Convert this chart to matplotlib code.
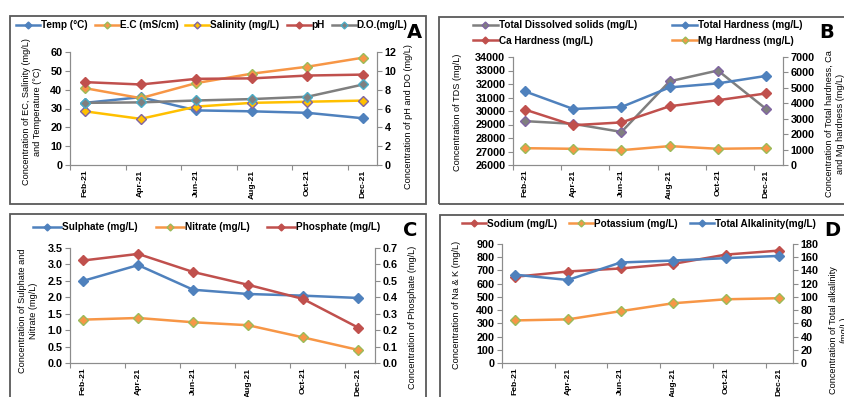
import matplotlib
matplotlib.use("Agg")
import matplotlib.pyplot as plt
from matplotlib.patches import Rectangle

plt.rcParams["font.family"] = ["Liberation Sans Narrow", "Liberation Sans", "DejaVu Sans"]

W, H = 845, 397

months = ["Feb-21", "Apr-21", "Jun-21", "Aug-21", "Oct-21", "Dec-21"]

# panel A
temp = [33.0, 36.0, 29.0, 28.5, 27.7, 24.8]
ec = [40.8, 35.5, 43.5, 48.5, 52.2, 57.0]
salinity = [28.5, 24.5, 31.0, 33.0, 33.6, 34.2]
ph = [8.8, 8.55, 9.15, 9.2, 9.5, 9.6]
do = [6.6, 6.65, 6.85, 7.0, 7.25, 8.55]

# panel B
tds = [29250, 29050, 28450, 32200, 33000, 30150]
total_hard = [4770, 3630, 3760, 5030, 5290, 5775]
ca_hard = [3590, 2580, 2760, 3810, 4200, 4640]
mg_hard = [1090, 1050, 960, 1225, 1050, 1090]

# panel C
sulphate = [2.5, 2.98, 2.23, 2.1, 2.05, 1.98]
nitrate = [1.32, 1.37, 1.24, 1.15, 0.78, 0.40]
phosphate = [0.624, 0.664, 0.554, 0.476, 0.39, 0.216]

# panel D
sodium = [652, 692, 715, 750, 820, 850]
potassium = [322, 330, 392, 452, 482, 490]
alkalinity = [133.6, 125.6, 152.0, 155.0, 158.6, 162.0]

BLUE = "#4F81BD"
RED = "#C0504D"
ORANGE = "#F79646"
GREEN = "#9BBB59"
PURPLE = "#8064A2"
AQUA = "#4BACC6"
GRAY = "#7F7F7F"
YELLOW = "#FFC000"
AXC = "#8C8C8C"

TICK_FS = 7.8
LAB_FS = 6.6
LEG_FS = 7.2

fig = plt.figure(figsize=(W / 100, H / 100), dpi=100)


def px_axes(l, t, r, b):
    return fig.add_axes([l / W, 1 - b / H, (r - l) / W, (b - t) / H])


def border(l, t, r, b):
    fig.add_artist(Rectangle((l / W, 1 - b / H), (r - l) / W, (b - t) / H,
                             transform=fig.transFigure, fill=False,
                             edgecolor="#595959", lw=1.3, clip_on=False))


def series(ax, y, color, face, edge):
    return ax.plot(range(len(y)), y, color=color, lw=1.8, marker="D",
                   ms=5, mfc=face, mec=edge, mew=1.0)[0]


def panel(rect, xoff, xend, ylim, yticks, yfmt, y2lim, y2ticks, y2fmt):
    ax = px_axes(*rect)
    ax2 = ax.twinx()
    for a in (ax, ax2):
        a.set_xlim(xoff, xend)
        for s in a.spines.values():
            s.set_color(AXC)
        a.spines["top"].set_visible(False)
        a.tick_params(colors=AXC, labelcolor="black", labelsize=TICK_FS,
                      direction="out", length=3.5, width=0.8)
    ax.set_ylim(*ylim)
    ax.set_yticks(yticks, [yfmt.format(v) for v in yticks],
                  fontweight="bold")
    ax2.set_ylim(*y2lim)
    ax2.set_yticks(y2ticks, [y2fmt.format(v) for v in y2ticks],
                   fontweight="bold")
    ax.set_xticks([i + xoff for i in range(6)])
    ax.set_xticklabels([])
    ax.set_xticks(range(6), months, minor=True, rotation=90,
                  fontweight="bold")
    ax.tick_params(axis="x", which="minor", length=0, labelsize=6.1,
                   pad=3.5)
    ax.tick_params(axis="y", pad=2)
    ax2.tick_params(axis="y", pad=2)
    ax.patch.set_visible(False)
    return ax, ax2


def legend(handles, labels, x, y, ncol, colsp, hl=2.5):
    fig.legend(handles, labels, loc="upper left",
               bbox_to_anchor=(x / W, 1 - y / H), ncol=ncol, frameon=False,
               prop={"size": LEG_FS, "weight": "bold"}, handlelength=hl,
               handletextpad=0.1, columnspacing=colsp, borderpad=0,
               borderaxespad=0, markerscale=0.7, labelspacing=0.55)


def vlabel(x, y, s):
    fig.text(x / W, 1 - y / H, s, rotation=90, ha="center", va="center",
             fontsize=LAB_FS, multialignment="center", linespacing=1.25)


def letter(x, y, s):
    fig.text(x / W, 1 - y / H, s, ha="center", va="center", fontsize=14,
             fontweight="bold", family="DejaVu Sans")


# ---- A ----
border(10, 16, 426, 204)
ax, ax2 = panel((70, 52, 377, 165), -0.27, 5.25, (0, 60), range(0, 61, 10),
                "{}", (0, 12), range(0, 13, 2), "{}")
h1 = series(ax, temp, BLUE, BLUE, BLUE)
h2 = series(ax, ec, ORANGE, ORANGE, GREEN)
h3 = series(ax, salinity, YELLOW, YELLOW, PURPLE)
h4 = series(ax2, ph, RED, RED, RED)
h5 = series(ax2, do, GRAY, GRAY, AQUA)
legend([h1, h2, h3, h4, h5],
       ["Temp (°C)", "E.C (mS/cm)", "Salinity (mg/L)", "pH", "D.O.(mg/L)"],
       16, 20, 5, 0.7, 2.4)
vlabel(32, 112, "Concentration of EC, Salinity (mg/L)\nand Temperature (°C)")
vlabel(409, 117, "Concentration of pH and DO (mg/L)")
letter(414, 33, "A")

# ---- B ----
border(439, 17, 880, 204)
ax, ax2 = panel((513, 57, 783, 165), -0.25, 5.35, (26000, 34000),
                range(26000, 34001, 1000), "{}", (0, 7000),
                range(0, 7001, 1000), "{}")
h1 = series(ax, tds, GRAY, GRAY, PURPLE)
h2 = series(ax2, total_hard, BLUE, BLUE, BLUE)
h3 = series(ax2, ca_hard, RED, RED, RED)
h4 = series(ax2, mg_hard, ORANGE, ORANGE, GREEN)
legend([h1, h3, h2, h4],
       ["Total Dissolved solids (mg/L)", "Ca Hardness (mg/L)",
        "Total Hardness (mg/L)", "Mg Hardness (mg/L)"],
       473, 20, 2, 3.5)
vlabel(458, 112, "Concentration of TDS (mg/L)")
vlabel(835, 124, "Concentration of Total hardness, Ca\nand Mg hardness (mg/L)")
letter(827, 33, "B")

# ---- C ----
border(10, 214, 426, 420)
ax, ax2 = panel((70, 248, 375, 363), -0.24, 5.31, (0, 3.5),
                [v / 2 for v in range(0, 8)], "{:.1f}", (0, 0.7),
                [v / 10 for v in range(0, 8)], "{:.1f}")
h1 = series(ax, sulphate, BLUE, BLUE, BLUE)
h2 = series(ax, nitrate, ORANGE, ORANGE, GREEN)
h3 = series(ax2, phosphate, RED, RED, RED)
legend([h1, h2, h3],
       ["Sulphate (mg/L)", "Nitrate (mg/L)", "Phosphate (mg/L)"],
       33, 222, 3, 1.8, 2.8)
vlabel(28, 311, "Concentration of Sulphate and\nNitrate (mg/L)")
vlabel(413, 317, "Concentration of Phosphate (mg/L)")
letter(410, 230, "C")

# ---- D ----
border(440, 215, 880, 420)
ax, ax2 = panel((502, 244, 793, 363), -0.25, 5.27, (0, 900),
                range(0, 901, 100), "{}", (0, 180), range(0, 181, 20), "{}")
h1 = series(ax, sodium, RED, RED, RED)
h2 = series(ax, potassium, ORANGE, ORANGE, GREEN)
h3 = series(ax2, alkalinity, BLUE, BLUE, BLUE)
legend([h1, h2, h3],
       ["Sodium (mg/L)", "Potassium (mg/L)", "Total Alkalinity(mg/L)"],
       462, 219, 3, 1.2, 2.4)
vlabel(457, 305, "Concentration of Na & K (mg/L)")
vlabel(839, 330, "Concentration of Total alkalinity\n(mg/L)")
letter(832, 230, "D")

fig.savefig("out.png", dpi=100)
